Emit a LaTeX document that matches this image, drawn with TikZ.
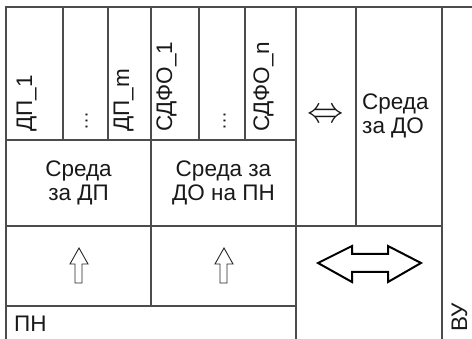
\documentclass[tikz,border=0pt]{standalone}
\usepackage{fontspec}
\setmainfont{Liberation Sans}
\usetikzlibrary{positioning}

\begin{document}
\begin{tikzpicture}[x=1pt, y=-1pt,
  gridline/.style={draw=black!70, line width=1.2pt},
  vlabel/.style={rotate=90, anchor=base west, inner sep=0pt, text=black!90, font=\fontsize{22.5}{24}\selectfont},
  dots/.style={vlabel, font=\fontsize{19}{20}\selectfont},
  cell/.style={align=center, inner sep=0pt, text=black!90, font=\fontsize{22.5}{24}\selectfont},
  thinarrow/.style={draw=black!85, line width=0.9pt, line join=miter},
  fatarrow/.style={draw=black, line width=2pt, line join=miter}]
\useasboundingbox (0,0) rectangle (472,339);
% frame and cells
\draw[gridline] (6,339) -- (6,7) -- (472,7);
\draw[gridline] (63,7) -- (63,140) (108,7) -- (108,140) (199,7) -- (199,140) (245,7) -- (245,140);
\draw[gridline] (151,7) -- (151,306);
\draw[gridline] (296,7) -- (296,339) (356,7) -- (356,226) (442,7) -- (442,339);
\draw[gridline] (6,140) -- (296,140) (6,226) -- (442,226) (6,306) -- (296,306);
% vertical labels
\node[vlabel] (dpone)   at (32,132)  {ДП\_1};
\node[dots]   (dpdots)  at (87.5,131) {…};
\node[vlabel] (dpm)     at (129,132) {ДП\_m};
\node[vlabel] (sdfoone) at (172,132) {СДФО\_1};
\node[dots]   (sdfodots) at (225.5,131) {…};
\node[vlabel] (sdfon)   at (269,132) {СДФО\_n};
\node[vlabel] (vu)      at (467,332) {ВУ};
% cells
\node[cell] (envdp)   at (78.5,183)  {Среда\\за ДП};
\node[cell] (envdopn) at (223.5,183) {Среда за\\ДО на ПН};
\node[cell, anchor=west, align=left] (envdo) at (362,116) {Среда\\за ДО};
\node[cell] (swap) at (326,116) {\scalebox{1.75}{$\Leftrightarrow$}};
\node[cell, anchor=base west] (pn) at (14,332) {ПН};
% arrows
\draw[thinarrow] (79,248) -- (88,264) -- (82,264) -- (82,283) -- (75,283) -- (75,264) -- (70,264) -- cycle;
\draw[thinarrow, xshift=145pt] (79,248) -- (88,264) -- (82,264) -- (82,283) -- (75,283) -- (75,264) -- (70,264) -- cycle;
\draw[fatarrow] (318,263) -- (352,246) -- (352,254) -- (388,254) -- (388,246) -- (421,263)
  -- (388,282) -- (388,272) -- (352,272) -- (352,282) -- cycle;
\end{tikzpicture}
\end{document}
